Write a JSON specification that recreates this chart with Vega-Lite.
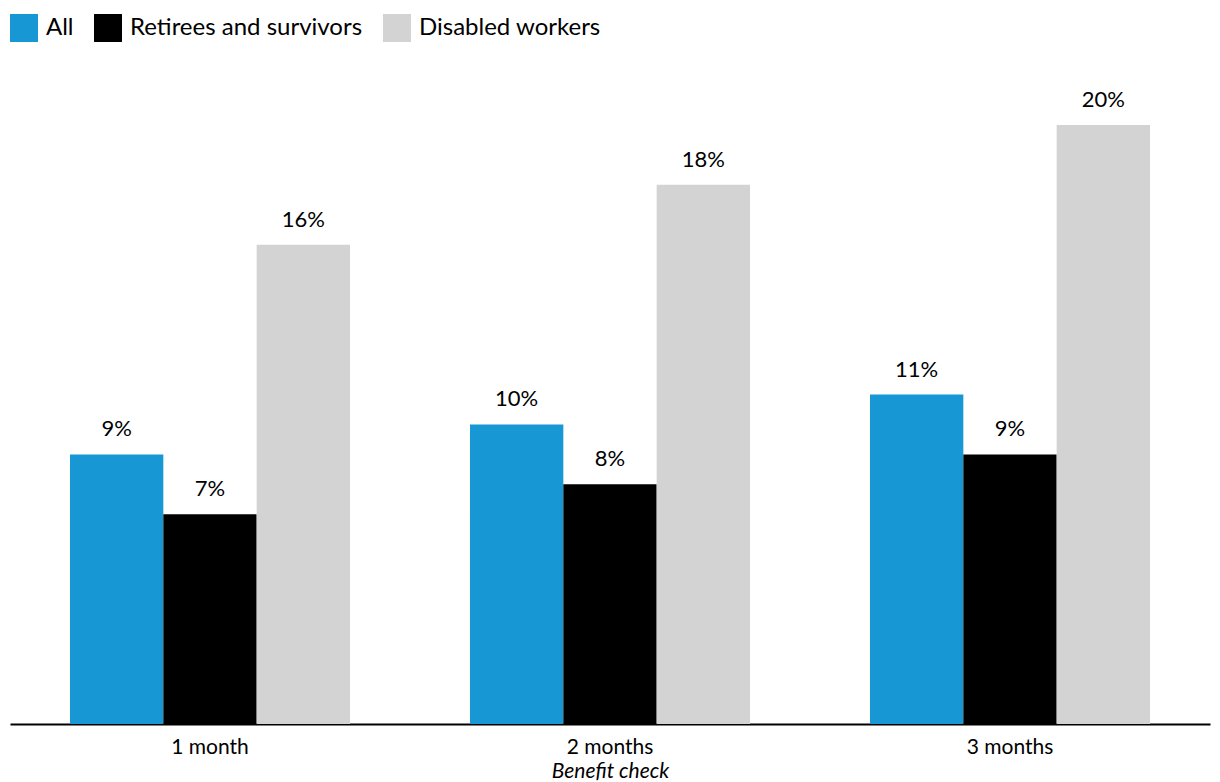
{
  "$schema": "https://vega.github.io/schema/vega-lite/v6.json",
  "autosize": "none",
  "width": 1200,
  "height": 659,
  "padding": {"left": 10, "top": 65, "right": 10, "bottom": 58},
  "background": "white",
  "config": {
    "font": "Lato",
    "view": {"stroke": null}
  },
  "data": {
    "values": [
      {"period": "1 month", "group": "All", "share": 0.09},
      {"period": "1 month", "group": "Retirees and survivors", "share": 0.07},
      {"period": "1 month", "group": "Disabled workers", "share": 0.16},
      {"period": "2 months", "group": "All", "share": 0.10},
      {"period": "2 months", "group": "Retirees and survivors", "share": 0.08},
      {"period": "2 months", "group": "Disabled workers", "share": 0.18},
      {"period": "3 months", "group": "All", "share": 0.11},
      {"period": "3 months", "group": "Retirees and survivors", "share": 0.09},
      {"period": "3 months", "group": "Disabled workers", "share": 0.20}
    ]
  },
  "encoding": {
    "x": {
      "field": "period",
      "type": "nominal",
      "scale": {"paddingInner": 0.3, "paddingOuter": 0.15},
      "axis": {
        "title": "Benefit check",
        "titleFont": "Lato",
        "titleFontStyle": "italic",
        "titleFontWeight": "normal",
        "titleFontSize": 21,
        "titleColor": "black",
        "titlePadding": 3,
        "labelAngle": 0,
        "labelFontSize": 21,
        "labelColor": "black",
        "labelPadding": 12,
        "ticks": false,
        "domainColor": "black",
        "domainWidth": 2,
        "grid": false
      }
    },
    "xOffset": {
      "field": "group",
      "type": "nominal",
      "sort": ["All", "Retirees and survivors", "Disabled workers"]
    },
    "y": {
      "field": "share",
      "type": "quantitative",
      "scale": {"domain": [0, 0.22], "nice": false},
      "axis": null
    }
  },
  "layer": [
    {
      "mark": {"type": "bar"},
      "encoding": {
        "color": {
          "field": "group",
          "type": "nominal",
          "sort": ["All", "Retirees and survivors", "Disabled workers"],
          "scale": {
            "domain": ["All", "Retirees and survivors", "Disabled workers"],
            "range": ["#1797d4", "#000000", "#d3d3d3"]
          },
          "legend": {
            "title": null,
            "orient": "none",
            "direction": "horizontal",
            "legendX": 0,
            "legendY": -51,
            "symbolType": "square",
            "symbolSize": 784,
            "symbolStrokeWidth": 0,
            "labelFontSize": 24,
            "labelColor": "black",
            "labelOffset": 8,
            "labelLimit": 500,
            "columnPadding": 20
          }
        }
      }
    },
    {
      "mark": {"type": "text", "baseline": "bottom", "dy": -13, "fontSize": 22, "color": "black"},
      "encoding": {
        "text": {"field": "share", "type": "quantitative", "format": ".0%"}
      }
    }
  ]
}
